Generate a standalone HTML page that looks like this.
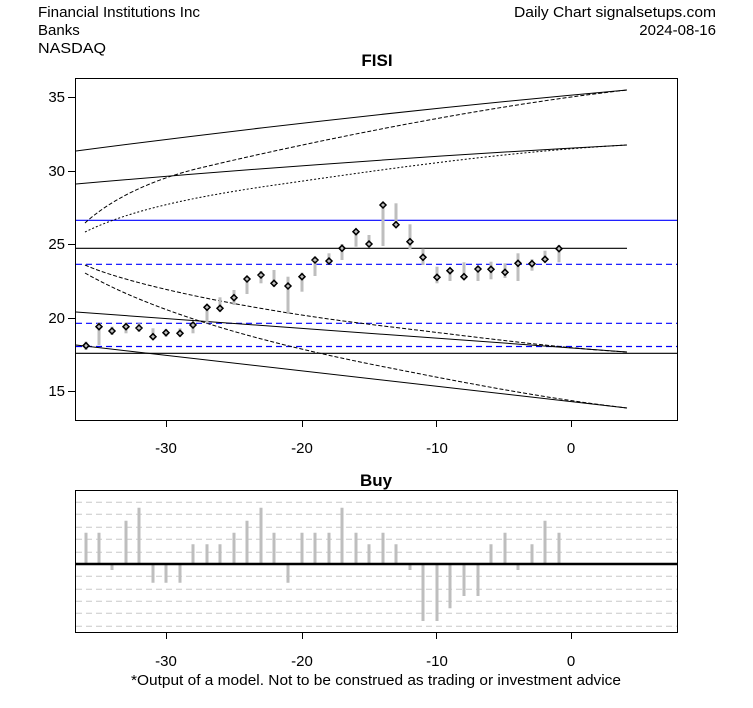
<!DOCTYPE html>
<html><head><meta charset="utf-8"><style>
html,body{margin:0;padding:0;background:#fff;}
svg{display:block;font-family:"Liberation Sans",Arial,sans-serif;}
</style></head><body>
<svg width="753" height="708" viewBox="0 0 753 708" xmlns="http://www.w3.org/2000/svg">
<rect width="753" height="708" fill="#fff"/>
<g font-size="15" fill="#000">
<text x="38" y="17" textLength="162" lengthAdjust="spacingAndGlyphs">Financial Institutions Inc</text>
<text x="38" y="35">Banks</text>
<text x="38" y="53" textLength="68" lengthAdjust="spacingAndGlyphs">NASDAQ</text>
<text x="716" y="17" text-anchor="end" textLength="202" lengthAdjust="spacingAndGlyphs">Daily Chart signalsetups.com</text>
<text x="716" y="35" text-anchor="end">2024-08-16</text>
</g>
<text x="377" y="66" font-size="17" font-weight="bold" text-anchor="middle">FISI</text>
<text x="376" y="486" font-size="17" font-weight="bold" text-anchor="middle">Buy</text>

<g fill="none" stroke="#000" stroke-width="1">
<rect x="75.5" y="78.5" width="602" height="342"/>
<path d="M75,97.5H68M75,171.5H68M75,244.5H68M75,318.5H68M75,391.5H68"/>
<path d="M166.5,420V427M302.5,420V427M436.5,420V427M571.5,420V427"/>
</g>
<g font-size="15" text-anchor="end">
<text x="65" y="102">35</text><text x="65" y="176">30</text><text x="65" y="249">25</text><text x="65" y="323">20</text><text x="65" y="396">15</text>
</g>
<g font-size="15" text-anchor="middle">
<text x="166" y="453">-30</text><text x="302" y="453">-20</text><text x="437" y="453">-10</text><text x="571" y="453">0</text>
</g>

<g fill="none" stroke-width="1.2">
<line x1="76" y1="220.3" x2="677" y2="220.3" stroke="#0000ff"/>
<line x1="76" y1="248.3" x2="627" y2="248.3" stroke="#000"/>
<line x1="76" y1="264.3" x2="677" y2="264.3" stroke="#0000ff" stroke-dasharray="6,4"/>
<line x1="76" y1="323.3" x2="677" y2="323.3" stroke="#0000ff" stroke-dasharray="6,4"/>
<line x1="76" y1="346.5" x2="677" y2="346.5" stroke="#0000ff" stroke-dasharray="6,4"/>
<line x1="76" y1="353.3" x2="677" y2="353.3" stroke="#000"/>
</g>
<g fill="none" stroke="#000" stroke-width="1">
<path d="M76,151 Q350,115 627,90"/>
<path d="M76,184 Q350,160 627,145"/>
<path d="M85,223 C110,200 150,180 200,168 S450,110 627,90" stroke-dasharray="4,2"/>
<path d="M85,232 C120,215 170,200 275,185 S500,152 627,145" stroke-dasharray="2,2"/>
<path d="M76,312 L627,352"/>
<path d="M76,345 L627,408"/>
<path d="M85,265 C130,285 250,310 375,325 S560,348 627,352" stroke-dasharray="4,2"/>
<path d="M85,273 C150,310 250,340 375,365 S560,400 627,408" stroke-dasharray="4,2"/>
</g>

<g stroke="#bebebe" stroke-width="3">
<line x1="86" y1="341.7" x2="86" y2="350"/>
<line x1="99" y1="323" x2="99" y2="345"/>
<line x1="112" y1="326.7" x2="112" y2="335"/>
<line x1="126" y1="322.7" x2="126" y2="333.3"/>
<line x1="139" y1="323.3" x2="139" y2="331.7"/>
<line x1="153" y1="328.3" x2="153" y2="339.3"/>
<line x1="166" y1="329.3" x2="166" y2="336.7"/>
<line x1="180" y1="328.3" x2="180" y2="336.7"/>
<line x1="193" y1="322.7" x2="193" y2="333.3"/>
<line x1="207" y1="305" x2="207" y2="323.3"/>
<line x1="220" y1="297.3" x2="220" y2="311.7"/>
<line x1="234" y1="290" x2="234" y2="305"/>
<line x1="247" y1="276.7" x2="247" y2="294"/>
<line x1="261" y1="271" x2="261" y2="283.3"/>
<line x1="274" y1="270" x2="274" y2="286.7"/>
<line x1="288" y1="276.7" x2="288" y2="314"/>
<line x1="302" y1="272.7" x2="302" y2="291.7"/>
<line x1="315" y1="256.7" x2="315" y2="276"/>
<line x1="329" y1="253.3" x2="329" y2="264"/>
<line x1="342" y1="244" x2="342" y2="260"/>
<line x1="356" y1="229.3" x2="356" y2="246.7"/>
<line x1="369" y1="235" x2="369" y2="247.3"/>
<line x1="383" y1="202.7" x2="383" y2="246"/>
<line x1="396" y1="203.3" x2="396" y2="226"/>
<line x1="410" y1="224.3" x2="410" y2="249.3"/>
<line x1="423" y1="248.7" x2="423" y2="265"/>
<line x1="437" y1="266.7" x2="437" y2="283.3"/>
<line x1="450" y1="268.3" x2="450" y2="281"/>
<line x1="464" y1="262.3" x2="464" y2="279"/>
<line x1="478" y1="266" x2="478" y2="281"/>
<line x1="491" y1="261.7" x2="491" y2="279.3"/>
<line x1="505" y1="263.3" x2="505" y2="278"/>
<line x1="518" y1="253.3" x2="518" y2="281"/>
<line x1="532" y1="259.3" x2="532" y2="270.7"/>
<line x1="545" y1="250.7" x2="545" y2="262.3"/>
<line x1="559" y1="245" x2="559" y2="262.3"/>
</g>
<g fill="none" stroke="#000" stroke-width="1.5">
<path id="m" d=""/>
<path d="M83,345.7l3,-3l3,3l-3,3zM96,326.7l3,-3l3,3l-3,3zM109,331l3,-3l3,3l-3,3zM123,326.7l3,-3l3,3l-3,3zM136,328l3,-3l3,3l-3,3zM150,336.7l3,-3l3,3l-3,3zM163,332.7l3,-3l3,3l-3,3zM177,333.3l3,-3l3,3l-3,3zM190,325l3,-3l3,3l-3,3zM204,307.3l3,-3l3,3l-3,3zM217,308.3l3,-3l3,3l-3,3zM231,297.7l3,-3l3,3l-3,3zM244,279l3,-3l3,3l-3,3zM258,275l3,-3l3,3l-3,3zM271,283.3l3,-3l3,3l-3,3zM285,286l3,-3l3,3l-3,3zM299,276.7l3,-3l3,3l-3,3zM312,260l3,-3l3,3l-3,3zM326,261l3,-3l3,3l-3,3zM339,248.3l3,-3l3,3l-3,3zM353,231.7l3,-3l3,3l-3,3zM366,244l3,-3l3,3l-3,3zM380,205l3,-3l3,3l-3,3zM393,224.7l3,-3l3,3l-3,3zM407,241.7l3,-3l3,3l-3,3zM420,257.3l3,-3l3,3l-3,3zM434,277.3l3,-3l3,3l-3,3zM447,270.7l3,-3l3,3l-3,3zM461,276.7l3,-3l3,3l-3,3zM475,269l3,-3l3,3l-3,3zM488,269.3l3,-3l3,3l-3,3zM502,272.3l3,-3l3,3l-3,3zM515,263.3l3,-3l3,3l-3,3zM529,263.7l3,-3l3,3l-3,3zM542,259.3l3,-3l3,3l-3,3zM556,248.7l3,-3l3,3l-3,3z"/>
</g>

<g stroke="#c8c8c8" stroke-width="1" stroke-dasharray="6,4">
<path d="M76,502.3H677M76,514.3H677M76,527.3H677M76,539.3H677M76,552.3H677M76,576.3H677M76,589.3H677M76,601.3H677M76,613.3H677M76,626.3H677"/>
</g>
<g stroke="#bebebe" stroke-width="3">
<path d="M86,564V532.7M99,564V532.7M112,564V570M126,564V520.7M139,564V507.7M153,564V582.7M166,564V582.7M180,564V582.7M193,564V544.3M207,564V544.3M220,564V544.3M234,564V532.7M247,564V520.7M261,564V507.7M274,564V532.7M288,564V582.7M302,564V532.7M315,564V532.7M329,564V532.7M342,564V507.7M356,564V532.7M369,564V544.3M383,564V532.7M396,564V544.3M410,564V570M423,564V621M437,564V621M450,564V608.3M464,564V596M478,564V596M491,564V544.3M505,564V532.7M518,564V570M532,564V544.3M545,564V520.7M559,564V532.7"/>
</g>
<line x1="76" y1="564" x2="677" y2="564" stroke="#000" stroke-width="2.5"/>
<g fill="none" stroke="#000" stroke-width="1">
<rect x="75.5" y="490.5" width="602" height="142"/>
<path d="M166.5,632V639M302.5,632V639M436.5,632V639M571.5,632V639"/>
</g>
<g font-size="15" text-anchor="middle">
<text x="166" y="666">-30</text><text x="302" y="666">-20</text><text x="437" y="666">-10</text><text x="571" y="666">0</text>
<text x="376" y="685" textLength="490" lengthAdjust="spacingAndGlyphs">*Output of a model. Not to be construed as trading or investment advice</text>
</g>
</svg>
</body></html>
